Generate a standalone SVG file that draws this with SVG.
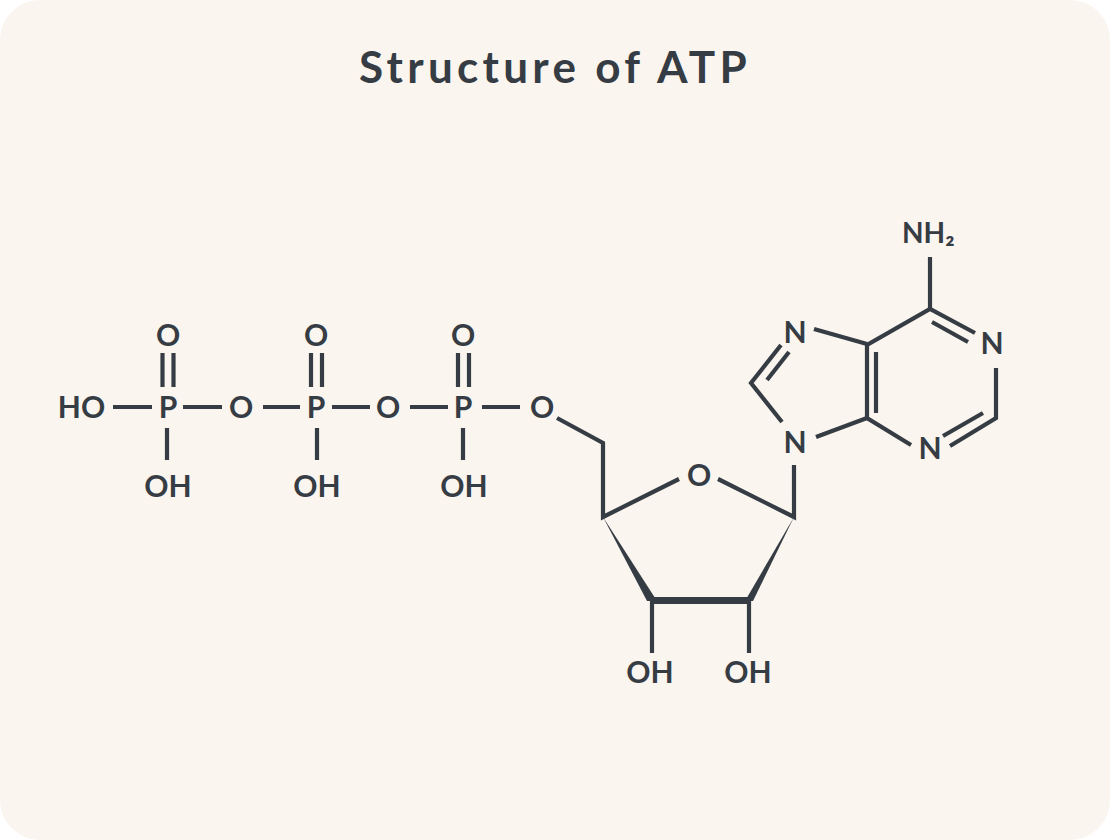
<svg xmlns="http://www.w3.org/2000/svg" width="1110" height="840" viewBox="0 0 1110 840">
<style>
.lbl{font-family:Lato,"Noto Sans","DejaVu Sans",sans-serif;font-weight:700;font-size:30px;fill:#363c44;text-anchor:middle}
.title{font-family:Lato,"Noto Sans","DejaVu Sans",sans-serif;font-weight:700;font-size:44px;letter-spacing:4.3px;fill:#363c44;text-anchor:middle}
.b{stroke:#363c44;stroke-width:4.2;fill:none;stroke-linecap:butt;stroke-linejoin:miter}
.w{fill:#363c44}
</style>
<rect x="0" y="0" width="1110" height="840" fill="#ffffff"/>
<rect x="0" y="0" width="1110" height="840" rx="40" ry="40" fill="#faf5ef"/>
<text class="title" x="555" y="83">Structure of ATP</text>

<g id="connectors">
<!-- phosphate chain -->
<line class="b" x1="113" y1="407" x2="152" y2="407"/>
<line class="b" x1="183" y1="407" x2="222" y2="407"/>
<line class="b" x1="263" y1="407" x2="300" y2="407"/>
<line class="b" x1="332" y1="407" x2="370" y2="407"/>
<line class="b" x1="410" y1="407" x2="448" y2="407"/>
<line class="b" x1="482" y1="407" x2="520" y2="407"/>
<line class="b" x1="162.5" y1="353" x2="162.5" y2="387"/>
<line class="b" x1="173.5" y1="353" x2="173.5" y2="387"/>
<line class="b" x1="311" y1="353" x2="311" y2="387"/>
<line class="b" x1="322" y1="353" x2="322" y2="387"/>
<line class="b" x1="458" y1="353" x2="458" y2="387"/>
<line class="b" x1="469" y1="353" x2="469" y2="387"/>
<line class="b" x1="167" y1="428" x2="167" y2="460"/>
<line class="b" x1="317" y1="428" x2="317" y2="460"/>
<line class="b" x1="463" y1="428" x2="463" y2="460"/>
<!-- ribose -->
<polyline class="b" points="557,418 603,443 603,517 679,479"/>
<polyline class="b" points="718,479 794,517 794,465"/>
<polygon class="w" points="603,517 647,601 657,601"/>
<polygon class="w" points="794,517 745,601 753,601"/>
<line x1="651" y1="600.5" x2="751" y2="600.5" stroke="#363c44" stroke-width="7"/>
<line class="b" x1="652" y1="600" x2="652" y2="653"/>
<line class="b" x1="749" y1="600" x2="749" y2="653"/>
<!-- adenine -->
<line class="b" x1="930" y1="257" x2="930" y2="309"/>
<polyline class="b" points="975,333 930,309 867,345 867,418 911,445"/>
<line class="b" x1="932" y1="322" x2="968" y2="342"/>
<line class="b" x1="876" y1="352" x2="876" y2="413"/>
<polyline class="b" points="996,368 996,418 950,446"/>
<line class="b" x1="943" y1="436" x2="983" y2="413"/>
<line class="b" x1="814" y1="329" x2="867" y2="344"/>
<polyline class="b" points="781,345 751,383 782,422"/>
<line class="b" x1="789" y1="352" x2="767" y2="380"/>
<line class="b" x1="816" y1="437" x2="867" y2="418"/>
</g>

<g id="n-HO"><text class="lbl" x="81.5" y="418">HO</text></g>
<g id="n-P1"><text class="lbl" x="168" y="418">P</text></g>
<g id="n-O1"><text class="lbl" x="241" y="418">O</text></g>
<g id="n-P2"><text class="lbl" x="316" y="418">P</text></g>
<g id="n-O2"><text class="lbl" x="388" y="418">O</text></g>
<g id="n-P3"><text class="lbl" x="463" y="418">P</text></g>
<g id="n-O3"><text class="lbl" x="542" y="418">O</text></g>
<g id="n-O1top"><text class="lbl" x="168" y="346">O</text></g>
<g id="n-O2top"><text class="lbl" x="316" y="346">O</text></g>
<g id="n-O3top"><text class="lbl" x="463" y="346">O</text></g>
<g id="n-OH1"><text class="lbl" x="168" y="497">OH</text></g>
<g id="n-OH2"><text class="lbl" x="317" y="497">OH</text></g>
<g id="n-OH3"><text class="lbl" x="464" y="497">OH</text></g>
<g id="n-Oring"><text class="lbl" x="699" y="486">O</text></g>
<g id="n-OH4"><text class="lbl" x="650" y="683">OH</text></g>
<g id="n-OH5"><text class="lbl" x="748" y="683">OH</text></g>
<g id="n-N9"><text class="lbl" x="795" y="453">N</text></g>
<g id="n-N7"><text class="lbl" x="795" y="342.5">N</text></g>
<g id="n-N1"><text class="lbl" x="992" y="354">N</text></g>
<g id="n-N3"><text class="lbl" x="930" y="459">N</text></g>
<g id="n-NH2"><text class="lbl" x="902" y="243" style="text-anchor:start;font-size:28px">NH₂</text></g>
</svg>
